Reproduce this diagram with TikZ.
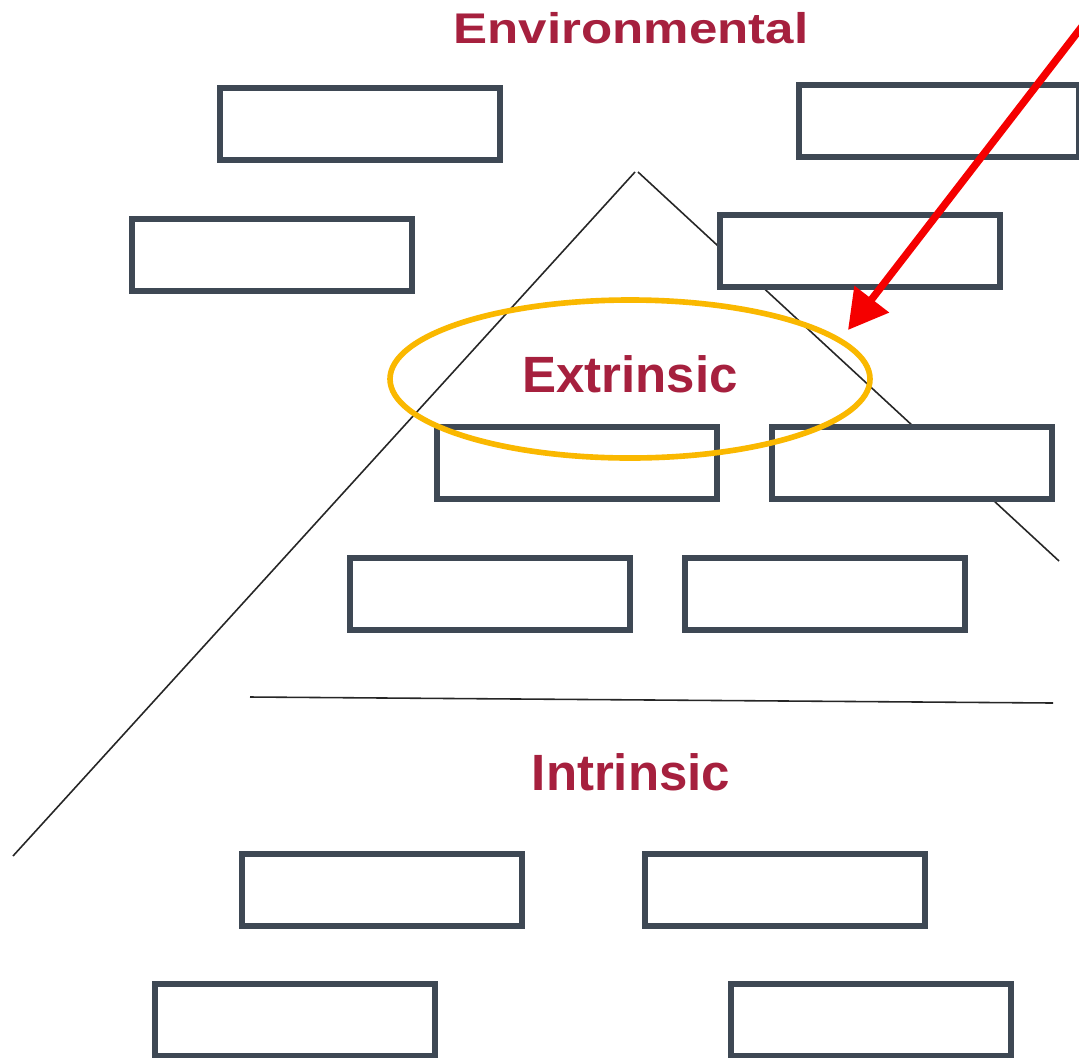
\documentclass[tikz,border=0pt]{standalone}
\usepackage{fontspec}
\setmainfont{Liberation Sans}
\usetikzlibrary{arrows.meta}
\definecolor{headred}{RGB}{166,32,62}
\definecolor{slotgrey}{RGB}{62,72,84}
\definecolor{ringgold}{RGB}{250,184,0}
\definecolor{pointred}{RGB}{245,0,0}
\begin{document}
\begin{tikzpicture}[x=0.01cm,y=-0.01cm,
  slot/.style={draw=slotgrey,line width=1.55pt,fill=white,rectangle,
    minimum width=2.80cm,minimum height=0.72cm,inner sep=0pt},
  heading/.style={text=headred,font=\fontsize{14.5}{16}\selectfont\bfseries,
    anchor=base,inner sep=0pt},
  guide/.style={draw=black!85,line width=0.45pt}]
\useasboundingbox[fill=white] (0,0) rectangle (1079,1057);

% pyramid outline and the divider
\coordinate (apexL) at (635,172);
\coordinate (apexR) at (638,172);
\coordinate (baseL) at (13,856);
\coordinate (baseR) at (1059,561);
\coordinate (divL) at (250,697);
\coordinate (divR) at (1053,703);
\draw[guide] (apexL) -- (baseL);
\draw[guide] (apexR) -- (baseR);
\draw[guide] (divL) -- (divR);

% headings (the top one is set smaller and widened)
\node[heading,font=\fontsize{12.2}{14}\selectfont\bfseries] (env) at (631,43)
  {\scalebox{1.19}[1]{Environmental}};
\node[heading] (ext) at (630,392) {Extrinsic};
\node[heading] (int) at (631,790) {Intrinsic};

% empty answer slots
\node[slot] (b1)  at (360,124) {};
\node[slot] (b2)  at (939,121) {};
\node[slot] (b3)  at (272,255) {};
\node[slot] (b4)  at (860,251) {};
\node[slot] (b5)  at (577,463) {};
\node[slot] (b6)  at (912,463) {};
\node[slot] (b7)  at (490,594) {};
\node[slot] (b8)  at (825,594) {};
\node[slot] (b9)  at (382,890) {};
\node[slot] (b10) at (785,890) {};
\node[slot] (b11) at (295,1020) {};
\node[slot] (b12) at (871,1020) {};

% highlight ring around the middle heading
\draw[ringgold,line width=1.6pt] (630,379) ellipse [x radius=240, y radius=79];

% pointer arrow
\coordinate (ptrStart) at (1087,20);
\coordinate (ptrTip) at (848,330);
\draw[pointred,line width=2.1pt,-{Triangle[length=0.39cm,width=0.42cm]}] (ptrStart) -- (ptrTip);
\end{tikzpicture}
\end{document}
